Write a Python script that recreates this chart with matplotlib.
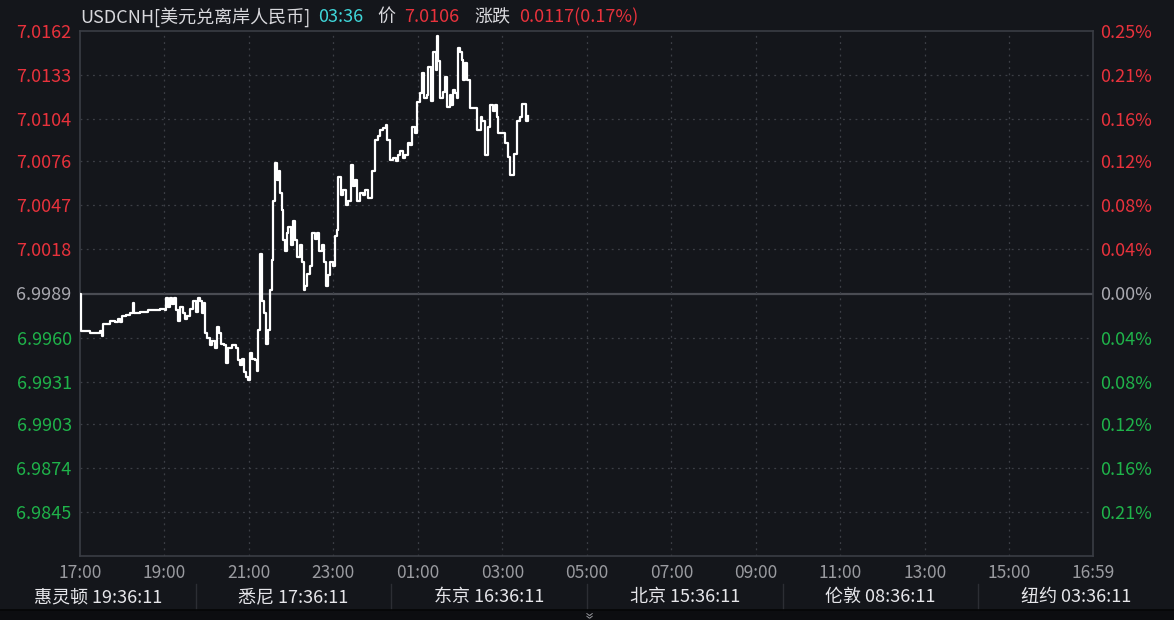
import numpy as np
import matplotlib
matplotlib.use('Agg')
import matplotlib.pyplot as plt

plt.rcParams['font.family'] = ['Noto Sans CJK SC', 'DejaVu Sans']

# minutes since 17:00 and USDCNH price
minutes = [0, 1, 14, 28, 31, 33, 40, 43, 50, 54, 57, 60, 65, 71, 75, 77, 85, 97, 107, 114,
           121, 122, 125, 128, 131, 134, 136, 139, 142, 146, 149, 152, 156, 161, 165, 168, 171, 173, 176, 178,
           181, 185, 188, 192, 195, 198, 200, 205, 208, 210, 216, 222, 225, 227, 230, 233, 236, 239, 242, 245,
           249, 252, 253, 256, 259, 262, 264, 267, 270, 273, 274, 277, 280, 283, 284, 287, 289, 291, 294, 296,
           300, 303, 306, 308, 313, 316, 318, 320, 323, 327, 330, 334, 337, 340, 344, 347, 350, 353, 355, 360,
           362, 365, 367, 371, 374, 378, 381, 385, 388, 391, 394, 398, 402, 405, 409, 412, 415, 419, 424, 426,
           431, 434, 436, 441, 445, 449, 452, 455, 459, 462, 466, 469, 472, 476, 479, 483, 486, 489, 493, 495,
           498, 502, 505, 507, 509, 512, 515, 519, 522, 525, 527, 530, 533, 536, 537, 540, 543, 544, 547, 550,
           554, 559, 561, 564, 569, 571, 576, 580, 583, 587, 590, 593, 594, 600, 604, 608, 611, 616, 621, 625,
           628, 633, 636]
prices = [6.9989, 6.9964, 6.9963, 6.9964, 6.9961, 6.9969, 6.9969, 6.9971, 6.9970, 6.9972, 6.9970, 6.9974, 6.9975, 6.9976, 6.9983, 6.9976, 6.9977, 6.9978, 6.9978, 6.9979,
          6.9978, 6.9986, 6.9980, 6.9986, 6.9982, 6.9986, 6.9978, 6.9971, 6.9980, 6.9976, 6.9972, 6.9974, 6.9979, 6.9984, 6.9977, 6.9986, 6.9984, 6.9976, 6.9983, 6.9963,
          6.9960, 6.9955, 6.9958, 6.9953, 6.9967, 6.9963, 6.9956, 6.9955, 6.9943, 6.9953, 6.9955, 6.9953, 6.9945, 6.9942, 6.9946, 6.9937, 6.9934, 6.9932, 6.9950, 6.9946,
          6.9945, 6.9938, 6.9965, 7.0015, 6.9984, 6.9976, 6.9956, 6.9965, 6.9991, 7.0011, 7.0050, 7.0075, 7.0064, 7.0070, 7.0055, 7.0044, 7.0024, 7.0017, 7.0029, 7.0033,
          7.0021, 7.0037, 7.0024, 7.0013, 7.0021, 7.0010, 6.9991, 6.9994, 7.0002, 7.0007, 7.0029, 7.0025, 7.0029, 7.0017, 7.0021, 7.0010, 6.9994, 7.0001, 7.0010, 7.0007,
          7.0027, 7.0031, 7.0066, 7.0054, 7.0057, 7.0047, 7.0050, 7.0074, 7.0060, 7.0064, 7.0050, 7.0055, 7.0054, 7.0057, 7.0052, 7.0052, 7.0070, 7.0090, 7.0093, 7.0097,
          7.0098, 7.0100, 7.0090, 7.0077, 7.0078, 7.0076, 7.0080, 7.0083, 7.0078, 7.0080, 7.0088, 7.0087, 7.0099, 7.0095, 7.0115, 7.0121, 7.0134, 7.0118, 7.0120, 7.0138,
          7.0116, 7.0148, 7.0136, 7.0159, 7.0142, 7.0118, 7.0122, 7.0132, 7.0112, 7.0120, 7.0113, 7.0123, 7.0121, 7.0118, 7.0151, 7.0148, 7.0143, 7.0130, 7.0141, 7.0130,
          7.0111, 7.0111, 7.0111, 7.0097, 7.0105, 7.0103, 7.0080, 7.0099, 7.0113, 7.0109, 7.0113, 7.0105, 7.0095, 7.0095, 7.0088, 7.0079, 7.0067, 7.0081, 7.0103, 7.0105,
          7.0114, 7.0103, 7.0106]

prev_close = 6.9989
left_labels = ['7.0162', '7.0133', '7.0104', '7.0076', '7.0047', '7.0018', '6.9989',
               '6.9960', '6.9931', '6.9903', '6.9874', '6.9845']
right_labels = ['0.25%', '0.21%', '0.16%', '0.12%', '0.08%', '0.04%', '0.00%',
                '0.04%', '0.08%', '0.12%', '0.16%', '0.21%']
x_ticks = [0, 120, 240, 360, 480, 600, 720, 840, 960, 1080, 1200, 1320, 1439]
x_labels = ['17:00', '19:00', '21:00', '23:00', '01:00', '03:00', '05:00', '07:00',
            '09:00', '11:00', '13:00', '15:00', '16:59']
clocks = ['惠灵顿 19:36:11', '悉尼 17:36:11', '东京 16:36:11', '北京 15:36:11',
          '伦敦 08:36:11', '纽约 03:36:11']

bg = '#14161b'
red = '#e8323c'
green = '#1fb34a'
gray = '#a9a9b0'
grid_c = '#3c3f46'

W, H = 1174, 620
fig = plt.figure(figsize=(W / 100, H / 100), dpi=100, facecolor=bg)
ax = fig.add_axes([80 / W, (H - 556) / H, (1093 - 80) / W, (556 - 31) / H])
ax.set_facecolor(bg)

top = float(left_labels[0])
low = 2 * prev_close - top
ax.set_ylim(low, top)
ax.set_xlim(0, x_ticks[-1])

yt = [float(v) for v in left_labels]
ax.set_yticks(yt)
ax.set_yticklabels(left_labels)
ax.set_xticks(x_ticks)
ax.set_xticklabels(x_labels)

for v in yt[1:]:
    if abs(v - prev_close) < 1e-6:
        ax.axhline(v, color='#4a4c53', lw=1.6, zorder=1)
    else:
        ax.axhline(v, color=grid_c, lw=0.9, ls=(0, (1.5, 3.5)), zorder=1)
for t in x_ticks[1:-1]:
    ax.axvline(t, color=grid_c, lw=0.9, ls=(0, (1.5, 3.5)), zorder=1)

for s in ax.spines.values():
    s.set_color('#3a3d44')
    s.set_linewidth(1.2)

ax.tick_params(axis='both', length=0)
ax.tick_params(axis='y', pad=6, labelsize=13)
ax.tick_params(axis='x', pad=6, labelsize=12.5, colors='#9a9ba0')
for lbl, v in zip(ax.get_yticklabels(), yt):
    lbl.set_color(red if v > prev_close + 1e-6 else (green if v < prev_close - 1e-6 else gray))

ax2 = ax.twinx()
ax2.set_ylim(low, top)
ax2.set_yticks(yt)
ax2.set_yticklabels(right_labels)
ax2.tick_params(axis='y', length=0, pad=5, labelsize=13)
for lbl, v in zip(ax2.get_yticklabels(), yt):
    lbl.set_color(red if v > prev_close + 1e-6 else (green if v < prev_close - 1e-6 else gray))
for s in ax2.spines.values():
    s.set_visible(False)

ax.plot(minutes, prices, color='white', lw=1.6, drawstyle='steps-post', zorder=3)

# header line
hy = 1 - 17 / H
fig.text(80 / W, hy, 'USDCNH[美元兑离岸人民币]', color='#d8d8dc', fontsize=13, va='center')
fig.text(318 / W, hy, '03:36', color='#3fd6d9', fontsize=13, va='center')
fig.text(377 / W, hy, '价', color='#d8d8dc', fontsize=13, va='center')
fig.text(404 / W, hy, '7.0106', color=red, fontsize=13, va='center')
fig.text(474 / W, hy, '涨跌', color='#d8d8dc', fontsize=13, va='center')
fig.text(519 / W, hy, '0.0117(0.17%)', color=red, fontsize=13, va='center')

# world clock strip
cell = W / len(clocks)
for i, c in enumerate(clocks):
    fig.text((cell * i + cell / 2) / W, 1 - 597 / H, c, color='#e6e6ea', fontsize=13,
             ha='center', va='center')
    if i > 0:
        fig.add_artist(plt.Line2D([cell * i / W] * 2, [1 - 584 / H, 1 - 609 / H],
                                  color='#2c2e34', lw=1))
fig.add_artist(plt.Rectangle((0, 0), 1, 10 / H, color='#0c0d10', transform=fig.transFigure, zorder=0))
fig.add_artist(plt.Line2D([0, 1], [10 / H, 10 / H], color='#050607', lw=1.2))
fig.text(587 / W, 5 / H, '»', color='#9a9ba0', fontsize=11, rotation=-90, ha='center', va='center')

fig.savefig('out.png', dpi=100, facecolor=bg)
